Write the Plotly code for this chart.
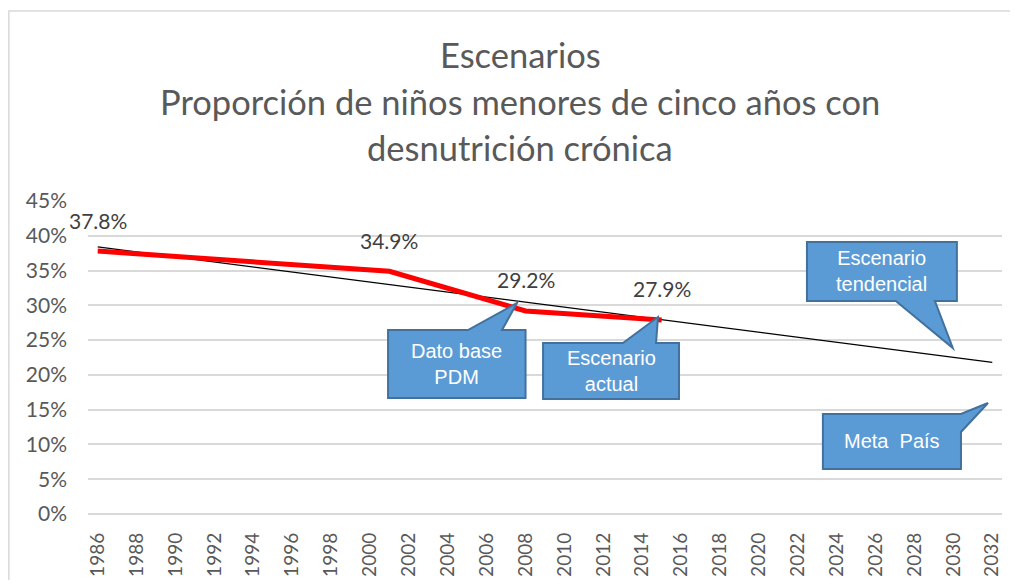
import plotly.graph_objects as go

# ---- data ----
years = [1986, 2001, 2008, 2015]
values = [37.8, 34.9, 29.2, 27.9]
value_labels = ["37.8%", "34.9%", "29.2%", "27.9%"]

trend_years = [1986, 2032]
trend_values = [38.4, 21.8]

tick_years = [1986, 1988, 1990, 1992, 1994, 1996, 1998, 2000, 2002, 2004, 2006, 2008,
              2010, 2012, 2014, 2016, 2018, 2020, 2022, 2024, 2026, 2028, 2030, 2032]
y_ticks = [0, 5, 10, 15, 20, 25, 30, 35, 40, 45]
y_tick_labels = ["0%", "5%", "10%", "15%", "20%", "25%", "30%", "35%", "40%", "45%"]

title_lines = ["Escenarios",
               "Proporción de niños menores de cinco años con",
               "desnutrición crónica"]

# callouts: text, box (x0, x1, y0, y1), pointer points inserted in the outline
callouts = [
    dict(text="Dato base<br>PDM", box=(2000.93, 2008.0, 16.68, 26.45),
         side="top", ptr=[(2005.04, 26.45), (2007.56, 30.34), (2006.79, 26.45)]),
    dict(text="Escenario<br>actual", box=(2008.90, 2015.89, 16.53, 24.58),
         side="top", ptr=[(2013.01, 24.58), (2014.81, 28.32), (2014.71, 24.58)]),
    dict(text="Escenario<br>tendencial", box=(2022.47, 2030.18, 30.62, 39.11),
         side="bottom", ptr=[(2029.05, 30.62), (2029.97, 23.87), (2027.04, 30.62)]),
    dict(text="Meta  País", box=(2023.29, 2030.39, 6.47, 14.38),
         side="right", ptr=[(2031.78, 15.96), (2030.39, 11.79)]),
]

FONT = "Lato, 'Open Sans', sans-serif"
NARROW = "'Liberation Sans Narrow', 'Arial Narrow', 'Liberation Sans', Arial, sans-serif"

fig = go.Figure()

fig.add_trace(go.Scatter(x=trend_years, y=trend_values, mode="lines",
                         line=dict(color="black", width=1.2), showlegend=False,
                         hoverinfo="skip"))
fig.add_trace(go.Scatter(x=years, y=values, mode="lines",
                         line=dict(color="#FF0000", width=5), showlegend=False))

for xv, yv, lab in zip(years, values, value_labels):
    fig.add_annotation(x=xv, y=yv, text=lab, showarrow=False, yshift=31,
                       font=dict(family=FONT, size=21, color="#404040"))


def callout_path(c):
    x0, x1, y0, y1 = c["box"]
    if c["side"] == "top":
        pts = [(x0, y1)] + c["ptr"] + [(x1, y1), (x1, y0), (x0, y0)]
    elif c["side"] == "bottom":
        pts = [(x0, y1), (x1, y1), (x1, y0)] + c["ptr"] + [(x0, y0)]
    else:
        pts = [(x0, y1), (x1, y1)] + c["ptr"] + [(x1, y0), (x0, y0)]
    return "M " + " L ".join(f"{px},{py}" for px, py in pts) + " Z"


for c in callouts:
    fig.add_shape(type="path", path=callout_path(c), xref="x", yref="y",
                  fillcolor="#5B9BD5", line=dict(color="#41719C", width=2), layer="above")
    x0, x1, y0, y1 = c["box"]
    fig.add_annotation(x=(x0 + x1) / 2, y=(y0 + y1) / 2, text=c["text"], showarrow=False,
                       xref="x", yref="y", xanchor="center", yanchor="middle",
                       font=dict(family=NARROW, size=20, color="white"))

# chart border (only left and top edges are visible in the cropped reference)
fig.add_shape(type="path", xref="paper", yref="paper",
              path="M -0.0866,-0.5 L -0.0866,1.607 L 1.5,1.607",
              line=dict(color="#D9D9D9", width=1.5), layer="below")

# title lines as annotations (paper coords relative to plot area)
title_centers_px = [55, 101.5, 148]
for line, cy in zip(title_lines, title_centers_px):
    fig.add_annotation(text=line, xref="paper", yref="paper",
                       x=(520 - 88) / 914, y=(514 - cy) / 313,
                       xanchor="center", yanchor="middle", showarrow=False,
                       font=dict(family=FONT, size=34.5, color="#595959"))

fig.update_layout(
    width=1002, height=572,
    margin=dict(l=80, r=8, t=193, b=66, autoexpand=False),
    paper_bgcolor="white", plot_bgcolor="white",
    font=dict(family=FONT, color="#595959"),
    xaxis=dict(range=[1985.5, 2032.5], tickmode="array", tickvals=tick_years,
               ticktext=[str(t) for t in tick_years], tickangle=-90,
               showgrid=False, zeroline=False, showline=False, automargin=False,
               tickfont=dict(family=FONT, size=19, color="#595959"),
               ticklabelstandoff=14),
    yaxis=dict(range=[0, 45], tickmode="array", tickvals=y_ticks, ticktext=y_tick_labels,
               showgrid=True, gridcolor="#D9D9D9", gridwidth=1.5,
               zeroline=True, zerolinecolor="#D9D9D9", zerolinewidth=1.5,
               showline=False, automargin=False,
               tickfont=dict(family=FONT, size=21, color="#595959"),
               ticklabelstandoff=20),
)

fig.write_html("out.html")
